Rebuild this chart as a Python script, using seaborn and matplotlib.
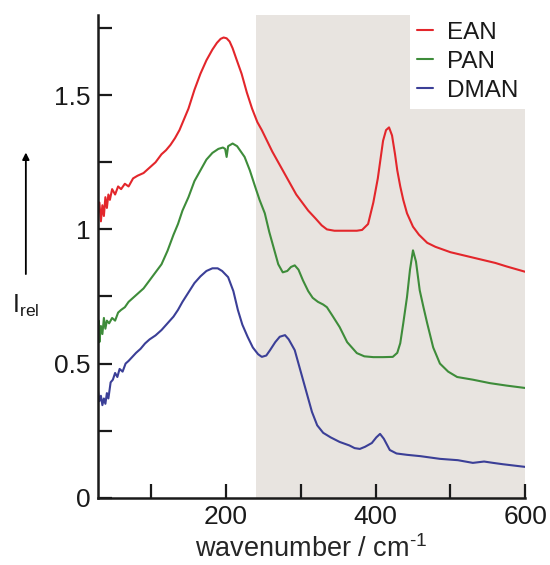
import matplotlib
matplotlib.use('Agg')
import matplotlib.pyplot as plt
import numpy as np
import pandas as pd
import seaborn as sns
from matplotlib.ticker import FixedLocator, FuncFormatter

# EAN spectrum
ean_x = [29, 31, 33, 35, 37, 39, 41, 43, 45, 48, 52, 56, 60, 65, 70, 76, 82, 90, 98, 106,
         114, 120, 126, 132, 138, 144, 150, 158, 166, 174, 182, 188, 193, 197, 201, 205, 209,
         214, 221, 228, 235, 242, 248, 255, 262, 270, 278, 286, 294, 302, 310, 320, 328, 335,
         345, 360, 375, 382, 390, 397, 403, 407, 410, 414, 418, 422, 426, 429, 433, 437, 442,
         450, 458, 469, 480, 490, 500, 515, 530, 545, 560, 575, 590, 600]
ean_y = [1.06, 1.10, 1.03, 1.09, 1.05, 1.12, 1.08, 1.13, 1.11, 1.15, 1.13, 1.16, 1.15, 1.17,
         1.16, 1.19, 1.20, 1.21, 1.23, 1.25, 1.28, 1.295, 1.315, 1.34, 1.37, 1.41, 1.45, 1.52,
         1.58, 1.63, 1.67, 1.695, 1.71, 1.715, 1.712, 1.70, 1.675, 1.635, 1.58, 1.51, 1.45,
         1.40, 1.37, 1.33, 1.29, 1.25, 1.21, 1.17, 1.13, 1.10, 1.07, 1.04, 1.015, 1.0, 0.995,
         0.995, 0.995, 0.998, 1.02, 1.10, 1.19, 1.27, 1.33, 1.37, 1.38, 1.35, 1.28, 1.22, 1.16,
         1.11, 1.06, 1.01, 0.98, 0.95, 0.935, 0.925, 0.915, 0.905, 0.895, 0.885, 0.875, 0.862,
         0.85, 0.842]

# PAN spectrum
pan_x = [29, 30, 31, 33, 35, 37, 39, 41, 44, 48, 52, 56, 60, 65, 70, 76, 82, 90, 98, 106,
         114, 122, 130, 136, 142, 150, 158, 166, 174, 182, 190, 196, 199, 201, 203, 209, 215,
         220, 225, 232, 239, 245, 252, 258, 265, 270, 276, 282, 287, 292, 297, 303, 310, 316,
         323, 330, 335, 342, 352, 362, 375, 385, 397, 410, 423, 429, 433, 437, 442, 446, 450,
         454, 459, 464, 469, 477, 486, 497, 509, 530, 553, 575, 600]
pan_y = [0.60, 0.66, 0.58, 0.64, 0.61, 0.67, 0.63, 0.66, 0.65, 0.67, 0.66, 0.69, 0.70, 0.71,
         0.73, 0.745, 0.76, 0.78, 0.81, 0.84, 0.87, 0.92, 0.98, 1.02, 1.07, 1.12, 1.18, 1.22,
         1.26, 1.285, 1.30, 1.305, 1.30, 1.27, 1.31, 1.32, 1.31, 1.29, 1.27, 1.22, 1.16, 1.11,
         1.06, 0.99, 0.92, 0.87, 0.84, 0.845, 0.86, 0.866, 0.85, 0.81, 0.77, 0.745, 0.73, 0.72,
         0.71, 0.68, 0.636, 0.58, 0.539, 0.527, 0.524, 0.524, 0.525, 0.54, 0.576, 0.65, 0.748,
         0.85, 0.922, 0.88, 0.773, 0.71, 0.65, 0.56, 0.50, 0.47, 0.45, 0.44, 0.427, 0.418, 0.409]

# DMAN spectrum
dman_x = [29, 31, 33, 35, 37, 39, 41, 43, 46, 49, 52, 55, 58, 62, 66, 70, 75, 80, 86, 92,
          98, 106, 114, 122, 130, 136, 142, 150, 158, 166, 174, 182, 189, 195, 203, 210, 216,
          222, 229, 236, 243, 248, 254, 259, 266, 272, 279, 284, 292, 300, 308, 315, 322, 330,
          340, 352, 365, 372, 379, 386, 395, 401, 406, 411, 419, 428, 442, 460, 486, 510, 530,
          545, 557, 570, 585, 600]
dman_y = [0.40, 0.36, 0.38, 0.345, 0.37, 0.35, 0.39, 0.37, 0.43, 0.44, 0.465, 0.45, 0.48,
          0.47, 0.50, 0.51, 0.525, 0.54, 0.555, 0.575, 0.59, 0.605, 0.625, 0.65, 0.675, 0.70,
          0.73, 0.765, 0.80, 0.825, 0.845, 0.855, 0.855, 0.845, 0.822, 0.77, 0.70, 0.645, 0.60,
          0.56, 0.535, 0.525, 0.53, 0.55, 0.58, 0.60, 0.606, 0.59, 0.55, 0.47, 0.39, 0.32, 0.27,
          0.242, 0.225, 0.208, 0.195, 0.185, 0.182, 0.19, 0.204, 0.225, 0.238, 0.22, 0.178,
          0.165, 0.16, 0.155, 0.145, 0.14, 0.13, 0.135, 0.13, 0.125, 0.12, 0.115]

names = ['EAN', 'PAN', 'DMAN']
colors = ['#e3262b', '#3e8c3a', '#3b3f97']

sns.set_style('ticks')
plt.rcParams['font.family'] = ['Liberation Sans', 'DejaVu Sans']
plt.rcParams['text.color'] = '#1a1a1a'
plt.rcParams['xtick.color'] = '#1a1a1a'
plt.rcParams['ytick.color'] = '#1a1a1a'
plt.rcParams['axes.edgecolor'] = '#1a1a1a'

fig = plt.figure(figsize=(5.5, 5.65), dpi=100)
ax = fig.add_axes([0.178, 0.119, 0.777, 0.855])

ax.axvspan(240, 600, color='#e8e4e0', lw=0, zorder=0)

for xs, ys, name, c in zip([ean_x, pan_x, dman_x], [ean_y, pan_y, dman_y], names, colors):
    sns.lineplot(x=xs, y=ys, color=c, label=name, lw=1.5, ax=ax, sort=False)

ax.set_xlim(29, 600)
ax.set_ylim(0, 1.8)

ax.xaxis.set_major_locator(FixedLocator([200, 400, 600]))
ax.xaxis.set_minor_locator(FixedLocator([100, 300, 500]))
ax.yaxis.set_major_locator(FixedLocator([0, 0.5, 1, 1.5]))
ax.yaxis.set_minor_locator(FixedLocator([0.25, 0.75, 1.25, 1.75]))
ax.yaxis.set_major_formatter(FuncFormatter(lambda v, p: '%g' % v))
ax.tick_params(which='both', direction='in', length=10, width=1.6, labelsize=19, pad=5)

sns.despine(ax=ax)
for s in ['left', 'bottom']:
    ax.spines[s].set_linewidth(1.8)

ax.set_xlabel('wavenumber / cm$^{\\mathregular{\u20101}}$', fontsize=19.5, labelpad=5)
ax.set_ylabel('')

fig.text(0.022, 0.458, r'I$_{\mathregular{rel}}$', fontsize=18, ha='left', va='center')
fig.add_artist(matplotlib.patches.FancyArrowPatch(
    (0.047, 0.51), (0.047, 0.735), transform=fig.transFigure,
    arrowstyle='-|>', mutation_scale=10, lw=1.3, color='black'))

leg = ax.legend(loc='upper right', bbox_to_anchor=(1.0, 1.0), borderaxespad=0,
                fontsize=17.5, handlelength=0.65, handletextpad=0.55, labelspacing=0.28,
                frameon=True, fancybox=False, framealpha=1, borderpad=0.3)
leg.get_frame().set_facecolor('white')
leg.get_frame().set_edgecolor('none')

fig.savefig('out.png', dpi=100)
